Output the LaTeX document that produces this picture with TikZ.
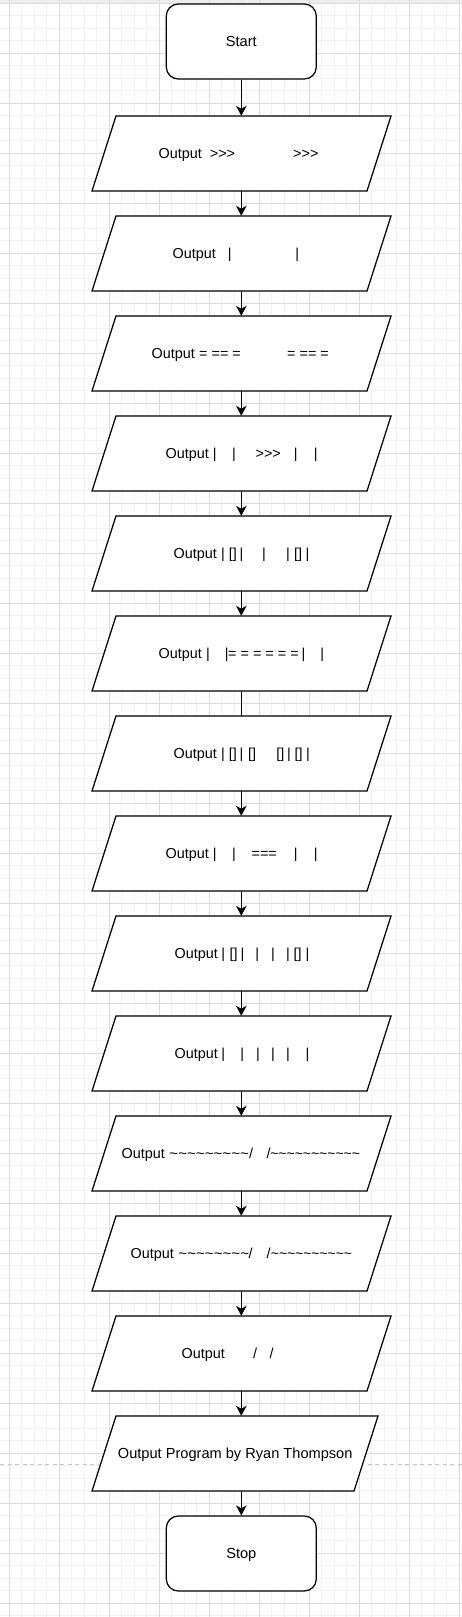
\documentclass[tikz,border=0pt]{standalone}
\usepackage{graphicx}
\usepackage{fontspec}
\newfontfamily\lsans{Liberation Sans}
\usetikzlibrary{arrows.meta,calc}
\newcommand\tild{\textasciitilde}
\newcommand\pc[2]{\rlap{\hspace{#1pt}#2}}
\newcommand\iob[6]{%
  \node[iobox] (#1) at (241.3,#2) {};
  \draw[shapeline] ($(#1.center)+(#3,-37.5)$) -- ($(#1.center)+(#4,-37.5)$) -- ($(#1.center)+(#5,37.5)$) -- ($(#1.center)+(#6,37.5)$) -- cycle;}
\begin{document}
\begin{tikzpicture}[x=1pt,y=-1pt,
  minorgrid/.style={draw=black!5, line width=1pt},
  majorgrid/.style={draw=black!14, line width=1pt},
  pagebreak/.style={draw=black!22, line width=1pt, dash pattern=on 4pt off 3.5pt},
  shapeline/.style={draw=black, line width=1.25pt, fill=white, line join=miter},
  term/.style={draw=black, line width=1.25pt, fill=white, rounded corners=12pt, minimum width=150pt, minimum height=75pt, inner sep=0pt, text height=10.4pt, text depth=0pt, font=\lsans\fontsize{14.6pt}{17pt}\selectfont},
  iobox/.style={rectangle, draw=none, minimum width=275pt, minimum height=75pt, inner sep=0pt},
  txt/.style={anchor=base west, inner sep=0pt, font=\lsans\fontsize{14.4pt}{17pt}\selectfont},
  ctxt/.style={anchor=base, inner sep=0pt, font=\lsans\fontsize{14.6pt}{17pt}\selectfont},
  flow/.style={draw=black, line width=1.25pt, -{Stealth[length=10pt,width=10.5pt,inset=3pt]}},
  plainline/.style={draw=black, line width=1.25pt}
]
\useasboundingbox (0,0) rectangle (462,1617);
\fill[black!7] (0,0) rectangle (462,3);
\foreach \i in {0,...,36} \draw[minorgrid] ({9.3+12.5*\i},0) -- ++(0,1617);
\foreach \i in {0,...,129} \draw[minorgrid] (0,{3.3+12.5*\i}) -- ++(462,0);
\foreach \i in {0,...,9} \draw[majorgrid] ({9.3+50*\i},0) -- ++(0,1617);
\foreach \i in {0,...,32} \draw[majorgrid] (0,{3.3+50*\i}) -- ++(462,0);
\coordinate (pbl) at (0,1464.3);
\coordinate (pbr) at (462,1464.3);
\draw[pagebreak] (pbl) -- (pbr);

\node[term] (s) at (241.3,41.5) {Start};
\iob{p1}{153.5}{-125.3}{149.7}{125.7}{-149.3}
\iob{p2}{253.5}{-125.3}{149.7}{125.7}{-149.3}
\iob{p3}{353.5}{-125.3}{149.7}{125.7}{-149.3}
\iob{p4}{453.5}{-125.3}{149.7}{125.7}{-149.3}
\iob{p5}{553.5}{-125.3}{149.7}{125.7}{-149.3}
\iob{p6}{653.5}{-125.3}{149.7}{125.7}{-149.3}
\iob{p7}{753.5}{-125.3}{149.7}{125.7}{-149.3}
\iob{p8}{853.5}{-125.3}{149.7}{125.7}{-149.3}
\iob{p9}{953.5}{-125.3}{149.7}{125.7}{-149.3}
\iob{p10}{1053.5}{-125.3}{149.7}{125.7}{-149.3}
\iob{p11}{1153.5}{-125.3}{149.7}{125.7}{-149.3}
\iob{p12}{1253.5}{-125.3}{149.7}{125.7}{-149.3}
\iob{p13}{1353.5}{-125.3}{149.7}{125.7}{-149.3}
\iob{p14}{1453.5}{-125.3}{136.7}{112.7}{-149.3}
\node[term] (e) at (241.3,1553.5) {Stop};

\node[txt] (t1) at (0,158.8) {\pc{158}{Output}\pc{209.2}{>>>}\pc{292.5}{>>>}};
\node[txt] (t2) at (0,258.8) {\pc{172}{Output}\pc{227.1}{|}\pc{294.8}{|}};
\node[txt] (t3) at (0,358.8) {\pc{151}{Output}\pc{198.5}{= == =}\pc{286.5}{= == =}};
\node[txt] (t4) at (0,458.8) {\pc{165}{Output}\pc{212.1}{|}\pc{231.4}{|}\pc{254.9}{>>>}\pc{293.1}{|}\pc{313.1}{|}};
\node[txt] (t5) at (0,558.8) {\pc{173}{Output}\pc{220.4}{|}\pc{228.3}{[]}\pc{238.8}{|}\pc{261.4}{|}\pc{285.4}{|}\pc{293.3}{[]}\pc{304.8}{|}};
\node[txt] (t6) at (0,658.8) {\pc{158}{Output}\pc{205.4}{|}\pc{224.1}{|}\pc{227.5}{= = = = = =}\pc{300.8}{|}\pc{319.8}{|}};
\node[txt] (t7) at (0,758.8) {\pc{173}{Output}\pc{220.4}{|}\pc{228.3}{[]}\pc{238.8}{|}\pc{247.3}{[]}\pc{275.7}{[]}\pc{286.4}{|}\pc{294}{[]}\pc{305.4}{|}};
\node[txt] (t8) at (0,858.8) {\pc{165}{Output}\pc{212.1}{|}\pc{231.4}{|}\pc{250.9}{===}\pc{293.1}{|}\pc{313.1}{|}};
\node[txt] (t9) at (0,958.8) {\pc{174}{Output}\pc{220.8}{|}\pc{229}{[]}\pc{239.8}{|}\pc{254.8}{|}\pc{270.4}{|}\pc{285.4}{|}\pc{293}{[]}\pc{304.8}{|}};
\node[txt] (t10) at (0,1058.8) {\pc{174}{Output}\pc{220.8}{|}\pc{239.8}{|}\pc{255.4}{|}\pc{270.4}{|}\pc{285.4}{|}\pc{304.8}{|}};
\node[txt] (t11) at (0,1158.8) {\pc{121}{Output}\pc{168.8}{\scalebox{1.05}[1]{\tild\tild\tild\tild\tild\tild\tild\tild\tild}}\pc{248.5}{/}\pc{266}{/}\pc{269.6}{\scalebox{0.97}[1]{\tild\tild\tild\tild\tild\tild\tild\tild\tild\tild\tild}}};
\node[txt] (t12) at (0,1258.8) {\pc{130}{Output}\pc{177.8}{\scalebox{1.05}[1]{\tild\tild\tild\tild\tild\tild\tild\tild}}\pc{248}{/}\pc{266}{/}\pc{270.2}{\scalebox{0.965}[1]{\tild\tild\tild\tild\tild\tild\tild\tild\tild\tild}}};
\node[txt] (t13) at (0,1358.8) {\pc{181}{Output}\pc{252.5}{/}\pc{269}{/}};
\node[ctxt] (t14) at (235.2,1458.8) {Output Program by Ryan Thompson};

\draw[flow] (s.south) -- (p1.north);
\draw[flow] (p1.south) -- (p2.north);
\draw[flow] (p2.south) -- (p3.north);
\draw[flow] (p3.south) -- (p4.north);
\draw[flow] (p4.south) -- (p5.north);
\draw[flow] (p5.south) -- (p6.north);
\draw[plainline] (p6.south) -- (p7.north);
\draw[flow] (p7.south) -- (p8.north);
\draw[flow] (p8.south) -- (p9.north);
\draw[flow] (p9.south) -- (p10.north);
\draw[flow] (p10.south) -- (p11.north);
\draw[flow] (p11.south) -- (p12.north);
\draw[flow] (p12.south) -- (p13.north);
\draw[flow] (p13.south) -- (p14.north);
\draw[flow] (p14.south) -- (e.north);
\end{tikzpicture}
\end{document}
